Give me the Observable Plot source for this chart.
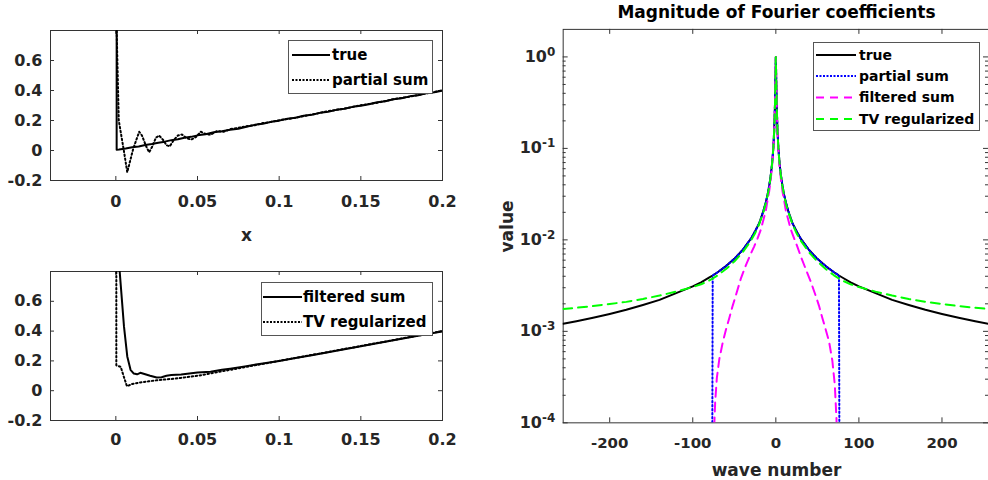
<!DOCTYPE html>
<html><head><meta charset="utf-8">
<script src="https://cdn.jsdelivr.net/npm/d3@7"></script>
<script src="https://cdn.jsdelivr.net/npm/@observablehq/plot@0.6"></script>
<style>
html,body{margin:0;padding:0;background:#fff;}
#wrap{position:relative;width:988px;height:480px;overflow:hidden;background:#fff;}
.panel{position:absolute;}
.panel svg{display:block;overflow:visible;}
#overlay{position:absolute;left:0;top:0;pointer-events:none;}
</style></head><body><div id="wrap"></div>
<script>
// ---------------- data: left panels (x from -0.04 to 0.2) ----------------
const trueX = [0.0005,0.0005,0.002,0.006,0.01,0.014,0.018,0.022,0.026,0.03,0.034,0.038,0.042,0.046,0.05,0.055,0.06,0.065,0.07,0.075,0.08,0.085,0.09,0.095,0.1,0.105,0.11,0.115,0.12,0.125,0.13,0.135,0.14,0.145,0.15,0.155,0.16,0.165,0.17,0.175,0.18,0.185,0.19,0.195,0.2];
const trueY = [0.85,0.005,0.006,0.013,0.022,0.027,0.037,0.043,0.052,0.059,0.069,0.075,0.085,0.091,0.101,0.108,0.122,0.128,0.138,0.145,0.158,0.171,0.178,0.191,0.199,0.212,0.218,0.232,0.238,0.251,0.258,0.271,0.278,0.291,0.299,0.309,0.321,0.329,0.341,0.348,0.361,0.368,0.381,0.388,0.4];

const partialX = [0.0004,0.0018,0.0049,0.007,0.0106,0.0143,0.016,0.0185,0.0204,0.0225,0.0245,0.0265,0.029,0.031,0.033,0.0355,0.038,0.0405,0.043,0.046,0.049,0.052,0.055,0.058,0.062,0.066,0.07,0.075,0.08,0.085,0.09,0.095,0.1,0.11,0.12,0.13,0.14,0.15,0.16,0.17,0.18,0.19,0.2];
const partialY = [0.85,0.2,0.0,-0.145,0.01,0.125,0.1,0.03,-0.012,0.03,0.085,0.1,0.07,0.035,0.028,0.07,0.1,0.107,0.085,0.072,0.09,0.125,0.11,0.105,0.13,0.125,0.142,0.152,0.162,0.168,0.183,0.19,0.202,0.218,0.24,0.262,0.279,0.302,0.318,0.342,0.359,0.381,0.4];

const filteredX = [0.002,0.005,0.007,0.009,0.011,0.013,0.015,0.018,0.021,0.025,0.028,0.031,0.034,0.04,0.045,0.05,0.058,0.065,0.07,0.08,0.09,0.1,0.11,0.12,0.13,0.14,0.15,0.16,0.17,0.18,0.19,0.2];
const filteredY = [0.85,0.43,0.23,0.14,0.115,0.11,0.12,0.11,0.1,0.088,0.09,0.1,0.105,0.108,0.115,0.122,0.127,0.14,0.148,0.165,0.183,0.2,0.22,0.238,0.258,0.278,0.298,0.318,0.338,0.358,0.378,0.398];

const tvX = [0.0003,0.0003,0.003,0.005,0.0068,0.01,0.015,0.02,0.025,0.03,0.035,0.04,0.045,0.05,0.06,0.07,0.08,0.09,0.1,0.11,0.12,0.13,0.14,0.15,0.16,0.17,0.18,0.19,0.2];
const tvY = [0.85,0.17,0.16,0.09,0.03,0.045,0.055,0.063,0.07,0.075,0.08,0.086,0.093,0.1,0.12,0.14,0.16,0.18,0.2,0.22,0.24,0.26,0.28,0.3,0.32,0.34,0.36,0.38,0.4];

// ---------------- data: right panel (magnitude of Fourier coefficients) ----------------
const waveK = [-256,-240,-220,-200,-180,-160,-140,-120,-100,-90,-80,-76,-70,-60,-50,-40,-30,-25,-20,-15,-12,-10,-8,-6,-5,-4,-3,-2,-1,0,1,2,3,4,5,6,8,10,12,15,20,25,30,40,50,60,70,76,80,90,100,120,140,160,180,200,220,240,256];
const trueMag = [0.00121,0.00129,0.00141,0.00155,0.00172,0.00194,0.00221,0.00262,0.0031,0.00344,0.00388,0.00408,0.00443,0.00517,0.0062,0.00775,0.0103,0.0124,0.0152,0.0207,0.0258,0.031,0.0388,0.0517,0.062,0.0775,0.103,0.155,0.31,
  1.0,
  0.31,0.155,0.103,0.0775,0.062,0.0517,0.0388,0.031,0.0258,0.0207,0.0152,0.0124,0.0103,0.00775,0.0062,0.00517,0.00443,0.00408,0.00388,0.00344,0.0031,0.00262,0.00221,0.00194,0.00172,0.00155,0.00141,0.00129,0.00121];
const tvMag = [0.00176,0.00181,0.00189,0.00199,0.0021,0.00226,0.00246,0.00272,0.00305,0.00327,0.0036,0.00378,0.0041,0.0048,0.0058,0.0073,0.0098,0.0118,0.0149,0.0201,0.0252,0.0304,0.038,0.0508,0.061,0.0765,0.102,0.153,0.305,
  1.0,
  0.305,0.153,0.102,0.0765,0.061,0.0508,0.038,0.0304,0.0252,0.0201,0.0149,0.0118,0.0098,0.0073,0.0058,0.0048,0.0041,0.00378,0.0036,0.00327,0.00305,0.00272,0.00246,0.00226,0.0021,0.00199,0.00189,0.00181,0.00176];

const partialK = [-77,-76,-70,-60,-50,-40,-30,-25,-20,-15,-12,-10,-8,-6,-5,-4,-3,-2,-1,0,1,2,3,4,5,6,8,10,12,15,20,25,30,40,50,60,70,76,77];
const partialMag = [1e-6,0.00408,0.00443,0.00517,0.0062,0.00775,0.0103,0.0124,0.0152,0.0207,0.0258,0.031,0.0388,0.0517,0.062,0.0775,0.103,0.155,0.31,
  1.0,
  0.31,0.155,0.103,0.0775,0.062,0.0517,0.0388,0.031,0.0258,0.0207,0.0152,0.0124,0.0103,0.00775,0.0062,0.00517,0.00443,0.00408,1e-6];

const filteredK = [-76,-75,-74,-73,-71,-68,-64,-60,-56,-52,-48,-42,-36,-30,-26,-22,-18,-15,-12,-10,-8,-6,-5,-4,-3,-2,-1,0,1,2,3,4,5,6,8,10,12,15,18,22,26,30,36,42,48,52,56,60,64,68,71,73,74,75,76];
const filteredMag = [1e-6,5e-5,1e-4,1.7e-4,3.1e-4,5e-4,7.5e-4,1.05e-3,1.4e-3,1.9e-3,2.5e-3,3.8e-3,5.3e-3,7.1e-3,8.5e-3,0.0104,0.013,0.0165,0.021,0.027,0.034,0.047,0.058,0.073,0.1,0.15,0.305,
  1.0,
  0.305,0.15,0.1,0.073,0.058,0.047,0.034,0.027,0.021,0.0165,0.013,0.0104,0.0084,0.0066,0.0048,0.0035,0.00245,0.0019,0.0014,0.00105,0.00078,0.00048,0.00026,0.00011,5e-5,1e-5,1e-6];

// ---------------- ticks / labels ----------------
const leftXTicks = [0, 0.05, 0.1, 0.15, 0.2];
const leftYTicks = [-0.2, 0, 0.2, 0.4, 0.6];
const waveTicks = [-200, -100, 0, 100, 200];
const magTicks = [1e-4, 1e-3, 1e-2, 1e-1, 1];
const magExponents = ["-4", "-3", "-2", "-1", "0"];
const magMinor = [2e-4,3e-4,4e-4,5e-4,6e-4,7e-4,8e-4,9e-4,2e-3,3e-3,4e-3,5e-3,6e-3,7e-3,8e-3,9e-3,2e-2,3e-2,4e-2,5e-2,6e-2,7e-2,8e-2,9e-2,0.2,0.3,0.4,0.5,0.6,0.7,0.8,0.9];

const INK = "#262626";
const FRAME = "#333";
const FONT = "DejaVu Sans";
const DOT = "1.5,2.5";
const DASH = "9,6";
const zip = (xs, ys) => xs.map((x, i) => ({x, y: ys[i]}));
const plain = d => String(d);

// frame with inward tick marks on all four sides (ticks are rules inset to a short stub)
function axesBox(xTicks, yTicks, {fw, fh, xFmt, yFmt, xPad, yPad, major, minorY}) {
  const m = [
    Plot.frame({stroke: FRAME, fill: "none", strokeWidth: 1}),
    Plot.axisX({ticks: xTicks, anchor: "bottom", tickSize: 0, tickPadding: xPad, tickFormat: xFmt, fill: INK, label: null}),
    Plot.axisY({ticks: yTicks, anchor: "left", tickSize: 0, tickPadding: yPad, tickFormat: yFmt, fill: INK, label: null}),
    Plot.ruleX(xTicks, {x: d => d, insetTop: fh - major, stroke: FRAME}),
    Plot.ruleX(xTicks, {x: d => d, insetBottom: fh - major, stroke: FRAME}),
    Plot.ruleY(yTicks, {y: d => d, insetRight: fw - major, stroke: FRAME}),
    Plot.ruleY(yTicks, {y: d => d, insetLeft: fw - major, stroke: FRAME})
  ];
  if (minorY) {
    m.push(Plot.ruleY(minorY, {y: d => d, insetRight: fw - 3, stroke: FRAME}));
    m.push(Plot.ruleY(minorY, {y: d => d, insetLeft: fw - 3, stroke: FRAME}));
  }
  return m;
}

const wrap = document.getElementById("wrap");
function place(node, left, top) {
  const d = document.createElement("div");
  d.className = "panel";
  d.style.left = left + "px";
  d.style.top = top + "px";
  d.appendChild(node);
  wrap.appendChild(d);
}

// top-left: true vs partial sum
const p1 = Plot.plot({
  width: 470, height: 250,
  marginLeft: 50, marginRight: 28, marginTop: 30, marginBottom: 70,
  style: {fontFamily: FONT, fontWeight: "bold", fontSize: "16px", color: INK, background: "transparent"},
  x: {domain: [-0.04, 0.2], label: null},
  y: {domain: [-0.2, 0.8], label: null},
  marks: [
    ...axesBox(leftXTicks, leftYTicks, {fw: 392, fh: 150, xFmt: plain, yFmt: plain, xPad: 15, yPad: 8, major: 4}),
    Plot.line(zip(trueX, trueY), {x: "x", y: "y", stroke: "black", strokeWidth: 2, clip: true}),
    Plot.line(zip(partialX, partialY), {x: "x", y: "y", stroke: "black", strokeWidth: 2, strokeDasharray: DOT, clip: true})
  ]
});
place(p1, 0, 0);

// bottom-left: filtered vs TV regularized
const p2 = Plot.plot({
  width: 470, height: 230,
  marginLeft: 50, marginRight: 28, marginTop: 21, marginBottom: 60,
  style: {fontFamily: FONT, fontWeight: "bold", fontSize: "16px", color: INK, background: "transparent"},
  x: {domain: [-0.04, 0.2], label: null},
  y: {domain: [-0.2, 0.8], label: null},
  marks: [
    ...axesBox(leftXTicks, leftYTicks, {fw: 392, fh: 149, xFmt: plain, yFmt: plain, xPad: 13, yPad: 8, major: 4}),
    Plot.line(zip(filteredX, filteredY), {x: "x", y: "y", stroke: "black", strokeWidth: 2, clip: true}),
    Plot.line(zip(tvX, tvY), {x: "x", y: "y", stroke: "black", strokeWidth: 2, strokeDasharray: DOT, clip: true})
  ]
});
place(p2, 0, 250);

// right: magnitudes (log scale)
const magFmt = d => "10^" + (magExponents[magTicks.indexOf(d)] ?? "");
const p3 = Plot.plot({
  width: 510, height: 480,
  marginLeft: 83, marginRight: 0, marginTop: 29, marginBottom: 56,
  style: {fontFamily: FONT, fontWeight: "bold", fontSize: "15px", color: INK, background: "transparent"},
  x: {domain: [-256, 256], label: null},
  y: {type: "log", domain: [1e-4, 2], label: null},
  marks: [
    ...axesBox(waveTicks, magTicks, {fw: 427, fh: 395, xFmt: plain, yFmt: magFmt, xPad: 15, yPad: 8, major: 5, minorY: magMinor}),
    Plot.line(zip(waveK, trueMag), {x: "x", y: "y", stroke: "black", strokeWidth: 2, clip: true}),
    Plot.line(zip(partialK, partialMag), {x: "x", y: "y", stroke: "#0000ff", strokeWidth: 2, strokeDasharray: DOT, clip: true}),
    Plot.line(zip(filteredK, filteredMag), {x: "x", y: "y", stroke: "#ff00ff", strokeWidth: 2, strokeDasharray: DASH, clip: true}),
    Plot.line(zip(waveK, tvMag), {x: "x", y: "y", stroke: "#00ff00", strokeWidth: 2, strokeDasharray: DASH, clip: true})
  ]
});
// render "10^e" tick labels with a raised exponent
d3.select(p3).selectAll("text").each(function () {
  const t = this.textContent;
  if (!t.startsWith("10^")) return;
  const e = t.slice(3);
  const sel = d3.select(this);
  sel.text(null);
  sel.append("tspan").attr("font-size", "16px").text("10");
  sel.append("tspan").attr("dy", "-0.5em").attr("font-size", "12px").text(e);
});
place(p3, 480, 0);

// ---------------- overlay: title, axis titles, legends ----------------
const ov = d3.select(wrap).append("svg").attr("id", "overlay")
  .attr("width", 988).attr("height", 480)
  .style("font-family", FONT).style("font-weight", "bold");

ov.append("text").attr("x", 776.5).attr("y", 17.5).attr("text-anchor", "middle")
  .attr("font-size", 17).attr("fill", "#000").text("Magnitude of Fourier coefficients");
ov.append("text").attr("x", 246.5).attr("y", 241).attr("text-anchor", "middle")
  .attr("font-size", 17).attr("fill", INK).text("x");
ov.append("text").attr("x", 776.5).attr("y", 476).attr("text-anchor", "middle")
  .attr("font-size", 17).attr("fill", INK).text("wave number");
ov.append("text").attr("transform", "translate(513,226.5) rotate(-90)").attr("text-anchor", "middle")
  .attr("font-size", 17).attr("fill", INK).text("value");

function legend(box, items, fs, s1, s2, tx) {
  const g = ov.append("g");
  g.append("rect").attr("x", box[0] + 0.5).attr("y", box[1] + 0.5).attr("width", box[2]).attr("height", box[3])
    .attr("fill", "#fff").attr("stroke", "#555").attr("stroke-width", 1);
  for (const it of items) {
    g.append("line").attr("x1", s1).attr("x2", s2).attr("y1", it.y).attr("y2", it.y)
      .attr("stroke", it.color).attr("stroke-width", 2).attr("stroke-dasharray", it.dash || null);
    g.append("text").attr("x", tx).attr("y", it.y).attr("dy", "0.35em")
      .attr("font-size", fs).attr("fill", "#000").text(it.label);
  }
}
legend([288, 40, 144, 53], [
  {label: "true", color: "black", y: 55},
  {label: "partial sum", color: "black", dash: "2,1.5", y: 80}
], 15, 292, 330, 332);
legend([261, 282, 171, 53], [
  {label: "filtered sum", color: "black", y: 297},
  {label: "TV regularized", color: "black", dash: "2,1.5", y: 322}
], 15, 263, 302, 303);
legend([813, 42, 166, 88], [
  {label: "true", color: "black", y: 55},
  {label: "partial sum", color: "#0000ff", dash: "2,1.5", y: 76},
  {label: "filtered sum", color: "#ff00ff", dash: "8,6", y: 97.5},
  {label: "TV regularized", color: "#00ff00", dash: "8,6", y: 119}
], 14, 816, 856, 859);
</script></body></html>
